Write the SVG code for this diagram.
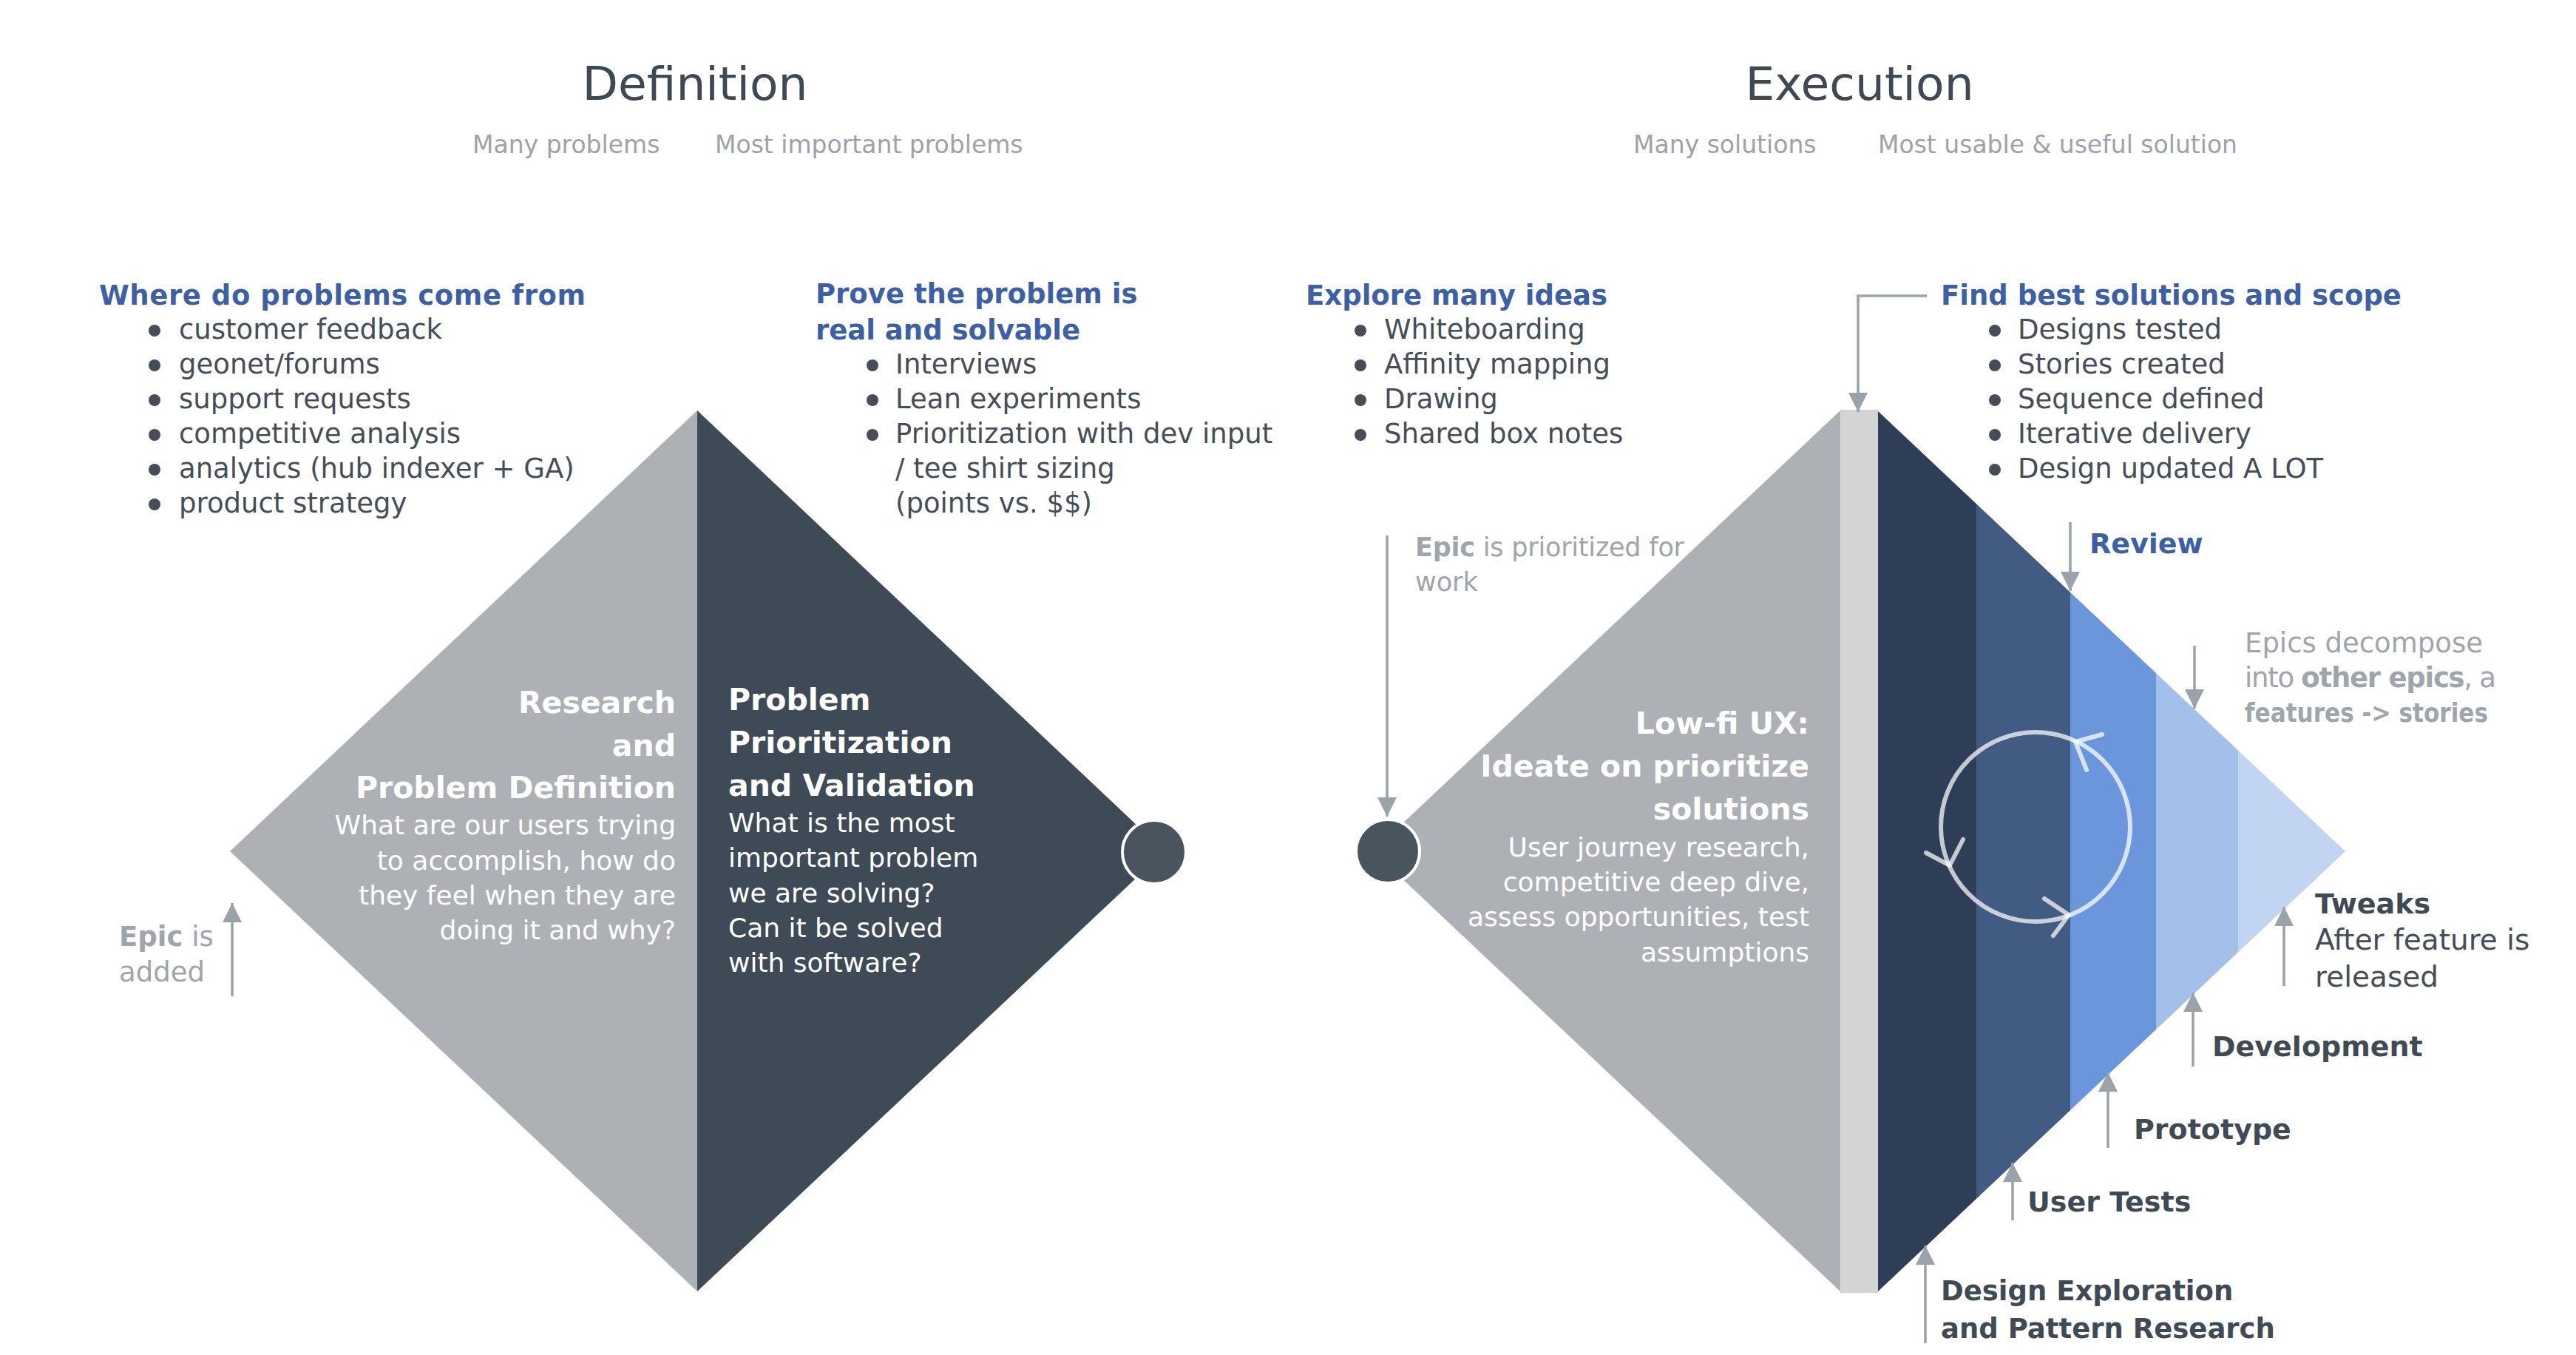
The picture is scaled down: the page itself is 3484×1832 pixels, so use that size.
<svg xmlns="http://www.w3.org/2000/svg" width="3484" height="1832" viewBox="0 0 3484 1832">
  <style>
    text { font-family: "DejaVu Sans", "Liberation Sans", sans-serif; }
    .title { font-size: 63px; fill: #3f4953; text-anchor: middle; }
    .sub { font-size: 33px; fill: #9ca3aa; }
    .head { font-size: 37px; font-weight: bold; fill: #3d5fa6; }
    .item { font-size: 37px; fill: #454e58; }
    .dot { fill: #454e58; }
    .wb { font-size: 41px; font-weight: bold; fill: #ffffff; }
    .wr { font-size: 36px; fill: #ffffff; }
    .end { text-anchor: end; }
    .note { font-size: 37px; fill: #9ea5ac; }
    .b { font-weight: bold; }
    .lbl { font-size: 38px; font-weight: bold; fill: #404a55; }
    .lblr { font-size: 39px; fill: #454e58; }
    .conn { fill: none; stroke: #9aa2aa; stroke-width: 3.5; }
    .loop { fill: none; stroke: #ffffff; stroke-opacity: 0.72; stroke-width: 6; stroke-linecap: round; stroke-linejoin: round; }
  </style>
  <defs>
    <marker id="ah" viewBox="0 0 10 10" refX="10" refY="5" markerUnits="userSpaceOnUse" markerWidth="34" markerHeight="26" orient="auto">
      <path d="M0,0 L10,5 L0,10 z" fill="#9aa2aa"/>
    </marker>
    <clipPath id="rightHalf">
      <polygon points="2540,556 3172,1151 2540,1746"/>
    </clipPath>
  </defs>

  <rect width="3484" height="1832" fill="#ffffff"/>

  <!-- Phase titles -->
  <g id="definition-title">
    <text class="title" x="940" y="135">Definition</text>
    <text class="sub" x="639" y="207">Many problems</text>
    <text class="sub" x="967" y="207">Most important problems</text>
  </g>
  <g id="execution-title">
    <text class="title" x="2515" y="135">Execution</text>
    <text class="sub" x="2209" y="207">Many solutions</text>
    <text class="sub" x="2540" y="207">Most usable &amp; useful solution</text>
  </g>

  <!-- Lists above the diamonds -->
  <g id="problem-sources">
    <text class="head" x="134" y="412" textLength="658">Where do problems come from</text>
    <circle class="dot" cx="209" cy="447" r="8"/>
    <text class="item" x="242" y="458">customer feedback</text>
    <circle class="dot" cx="209" cy="494" r="8"/>
    <text class="item" x="242" y="505">geonet/forums</text>
    <circle class="dot" cx="209" cy="541" r="8"/>
    <text class="item" x="242" y="552">support requests</text>
    <circle class="dot" cx="209" cy="588" r="8"/>
    <text class="item" x="242" y="599">competitive analysis</text>
    <circle class="dot" cx="209" cy="635" r="8"/>
    <text class="item" x="242" y="646">analytics (hub indexer + GA)</text>
    <circle class="dot" cx="209" cy="682" r="8"/>
    <text class="item" x="242" y="693">product strategy</text>
  </g>

  <g id="prove-problem">
    <text class="head" x="1103" y="410">Prove the problem is</text>
    <text class="head" x="1103" y="459">real and solvable</text>
    <circle class="dot" cx="1180" cy="494" r="8"/>
    <text class="item" x="1211" y="505">Interviews</text>
    <circle class="dot" cx="1180" cy="541" r="8"/>
    <text class="item" x="1211" y="552">Lean experiments</text>
    <circle class="dot" cx="1180" cy="588" r="8"/>
    <text class="item" x="1211" y="599">Prioritization with dev input</text>
    <text class="item" x="1211" y="646">/ tee shirt sizing</text>
    <text class="item" x="1211" y="693">(points vs. $$)</text>
  </g>

  <g id="explore-ideas">
    <text class="head" x="1766" y="412">Explore many ideas</text>
    <circle class="dot" cx="1840" cy="447" r="8"/>
    <text class="item" x="1872" y="458">Whiteboarding</text>
    <circle class="dot" cx="1840" cy="494" r="8"/>
    <text class="item" x="1872" y="505">Affinity mapping</text>
    <circle class="dot" cx="1840" cy="541" r="8"/>
    <text class="item" x="1872" y="552">Drawing</text>
    <circle class="dot" cx="1840" cy="588" r="8"/>
    <text class="item" x="1872" y="599">Shared box notes</text>
  </g>

  <g id="best-solutions">
    <text class="head" x="2625" y="412">Find best solutions and scope</text>
    <circle class="dot" cx="2698" cy="447" r="8"/>
    <text class="item" x="2729" y="458">Designs tested</text>
    <circle class="dot" cx="2698" cy="494" r="8"/>
    <text class="item" x="2729" y="505">Stories created</text>
    <circle class="dot" cx="2698" cy="541" r="8"/>
    <text class="item" x="2729" y="552">Sequence defined</text>
    <circle class="dot" cx="2698" cy="588" r="8"/>
    <text class="item" x="2729" y="599">Iterative delivery</text>
    <circle class="dot" cx="2698" cy="635" r="8"/>
    <text class="item" x="2729" y="646">Design updated A LOT</text>
  </g>

  <!-- Definition diamond -->
  <g id="research-definition">
    <polygon points="311,1151 943,555 943,1746" fill="#adb1b5"/>
    <text class="wb end" x="914" y="964">Research</text>
    <text class="wb end" x="914" y="1022">and</text>
    <text class="wb end" x="914" y="1079">Problem Definition</text>
    <text class="wr end" x="914" y="1128">What are our users trying</text>
    <text class="wr end" x="914" y="1176">to accomplish, how do</text>
    <text class="wr end" x="914" y="1223">they feel when they are</text>
    <text class="wr end" x="914" y="1270">doing it and why?</text>
  </g>
  <g id="prioritization-validation">
    <polygon points="943,555 1575,1151 943,1746" fill="#3e4a55"/>
    <text class="wb" x="985" y="960">Problem</text>
    <text class="wb" x="985" y="1018">Prioritization</text>
    <text class="wb" x="985" y="1076">and Validation</text>
    <text class="wr" x="985" y="1125">What is the most</text>
    <text class="wr" x="985" y="1172">important problem</text>
    <text class="wr" x="985" y="1220">we are solving?</text>
    <text class="wr" x="985" y="1267">Can it be solved</text>
    <text class="wr" x="985" y="1314">with software?</text>
  </g>
  <g id="definition-end">
    <circle cx="1561" cy="1152" r="43" fill="#49545e" stroke="#ffffff" stroke-width="4"/>
  </g>

  <!-- Execution diamond -->
  <g id="lowfi-ux">
    <polygon points="1857,1151 2489,555 2489,1746" fill="#adb1b5"/>
    <text class="wb end" x="2447" y="992">Low-fi UX:</text>
    <text class="wb end" x="2447" y="1050">Ideate on prioritize</text>
    <text class="wb end" x="2447" y="1108">solutions</text>
    <text class="wr end" x="2447" y="1158">User journey research,</text>
    <text class="wr end" x="2447" y="1205">competitive deep dive,</text>
    <text class="wr end" x="2447" y="1252">assess opportunities, test</text>
    <text class="wr end" x="2447" y="1300">assumptions</text>
  </g>
  <g id="handoff-bar">
    <rect x="2489" y="554" width="51" height="1194" fill="#d4d4d4"/>
  </g>
  <g id="execution-stages" clip-path="url(#rightHalf)">
    <rect x="2540" y="550" width="133" height="1200" fill="#2f3e57"/>
    <rect x="2673" y="550" width="127" height="1200" fill="#425b83"/>
    <rect x="2800" y="550" width="116" height="1200" fill="#6b96dc"/>
    <rect x="2916" y="550" width="111" height="1200" fill="#a3bfea"/>
    <rect x="3027" y="550" width="150" height="1200" fill="#c1d4f1"/>
  </g>
  <g id="iteration-loop">
    <circle class="loop" cx="2753" cy="1118" r="128"/>
    <polyline class="loop" points="2843,993 2807,1003 2822,1041"/>
    <polyline class="loop" points="2605,1153 2637,1170 2655,1135"/>
    <polyline class="loop" points="2765,1215 2798,1237 2777,1265"/>
  </g>
  <g id="execution-start">
    <circle cx="1877" cy="1151" r="43" fill="#48545e" stroke="#ffffff" stroke-width="4"/>
  </g>

  <!-- Notes and stage labels -->
  <g id="epic-added">
    <text class="note" x="161" y="1279"><tspan class="b">Epic</tspan> is</text>
    <text class="note" x="161" y="1327">added</text>
  </g>
  <g id="epic-prioritized">
    <text class="note" x="1914" y="752" style="font-size:35px" textLength="364"><tspan class="b">Epic</tspan> is prioritized for</text>
    <text class="note" x="1914" y="799" style="font-size:35px">work</text>
  </g>
  <g id="review">
    <text class="lbl" x="2826" y="748" style="fill:#3d5fa6">Review</text>
  </g>
  <g id="epics-decompose">
    <text class="note" x="3036" y="882">Epics decompose</text>
    <text class="note" x="3036" y="929" textLength="340">into <tspan class="b">other epics</tspan>, a</text>
    <text class="note b" x="3036" y="976" style="font-size:35px" textLength="329" lengthAdjust="spacingAndGlyphs">features -&gt; stories</text>
  </g>
  <g id="tweaks">
    <text class="lbl" x="3131" y="1235">Tweaks</text>
    <text class="lblr" x="3131" y="1284">After feature is</text>
    <text class="lblr" x="3131" y="1334">released</text>
  </g>
  <g id="development">
    <text class="lbl" x="2992" y="1428">Development</text>
  </g>
  <g id="prototype">
    <text class="lbl" x="2886" y="1540">Prototype</text>
  </g>
  <g id="user-tests">
    <text class="lbl" x="2742" y="1638">User Tests</text>
  </g>
  <g id="design-exploration">
    <text class="lbl" x="2625" y="1758" style="font-size:37px">Design Exploration</text>
    <text class="lbl" x="2625" y="1809" style="font-size:37px">and Pattern Research</text>
  </g>

  <!-- Connectors -->
  <g id="connectors">
    <path class="conn" d="M314,1347 L314,1221" marker-end="url(#ah)"/>
    <path class="conn" d="M1876,724 L1876,1104" marker-end="url(#ah)"/>
    <path class="conn" d="M2606,400 L2513,400 L2513,557" marker-end="url(#ah)"/>
    <path class="conn" d="M2800,706 L2800,799" marker-end="url(#ah)"/>
    <path class="conn" d="M2968,873 L2968,958" marker-end="url(#ah)"/>
    <path class="conn" d="M3089,1333 L3089,1226" marker-end="url(#ah)"/>
    <path class="conn" d="M2966,1442 L2966,1342" marker-end="url(#ah)"/>
    <path class="conn" d="M2851,1552 L2851,1450" marker-end="url(#ah)"/>
    <path class="conn" d="M2722,1650 L2722,1572" marker-end="url(#ah)"/>
    <path class="conn" d="M2604,1816 L2604,1684" marker-end="url(#ah)"/>
  </g>
</svg>
